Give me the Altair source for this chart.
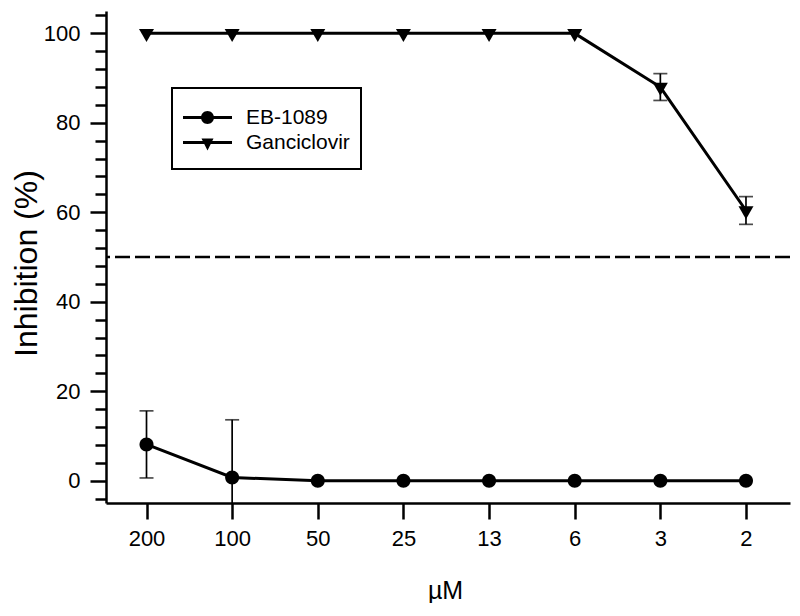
import json
import altair as alt
import pandas as pd

# ---- data ----
conc_labels = ["200", "100", "50", "25", "13", "6", "3", "2"]
series_names = ["EB-1089", "Ganciclovir"]
eb_mean = [8.1, 0.7, 0, 0, 0, 0, 0, 0]
eb_err = [7.5, 12.9, 0, 0, 0, 0, 0, 0]
ganc_mean = [100, 100, 100, 100, 100, 100, 88.0, 60.4]
ganc_err = [0, 0, 0, 0, 0, 0, 3.0, 3.1]
threshold = [50]
major_ticks = [0, 20, 40, 60, 80, 100]
minor_ticks = [v for v in range(-4, 105, 4) if v % 20 != 0]

rows = []
for name, means, errs in [(series_names[0], eb_mean, eb_err), (series_names[1], ganc_mean, ganc_err)]:
    for i, (m, e) in enumerate(zip(means, errs)):
        rows.append({"idx": i, "series": name, "mean": m, "low": m - e, "high": m + e, "err": e})
df = pd.DataFrame(rows)
df_err = df[df["err"] > 0]

FONT = "Liberation Sans"

xscale = alt.Scale(domain=[-0.473, 7.514], nice=False, zero=False)
yscale = alt.Scale(domain=[-5, 105], nice=False, zero=False)

xaxis = alt.Axis(
    values=list(range(len(conc_labels))),
    labelExpr=f"{json.dumps(conc_labels)}[datum.value]",
    title="µM", grid=False, tickSize=16, labelPadding=9,
    titleX=339, titleY=95, titleBaseline="alphabetic", titleAlign="center",
    titleFontSize=25,
)
yaxis_major = alt.Axis(
    orient="left", values=major_ticks,
    title="Inhibition (%)", grid=False, tickSize=16, labelPadding=10,
    titleX=-70, titleY=252, titleAngle=270, titleBaseline="alphabetic", titleAlign="center",
    titleFontSize=32,
)
yaxis_minor = alt.Axis(
    orient="left", values=minor_ticks, labels=False, domain=False,
    title=None, grid=False, tickSize=11,
)

X = lambda f: alt.X(f, type="quantitative", scale=xscale, axis=xaxis)
Y = lambda f, ax=None: alt.Y(f, type="quantitative", scale=yscale, axis=ax)

base = alt.Chart(df)

dash = alt.Chart(pd.DataFrame({"t": threshold})).mark_rule(
    color="black", strokeWidth=2.5, strokeDash=[15, 5]
).encode(y=Y("t", yaxis_minor))

lines = base.mark_line(color="black", strokeWidth=3).encode(
    x=X("idx"), y=Y("mean", yaxis_major), detail="series:N"
)

err_rules = alt.Chart(df_err).mark_rule(color="black", strokeWidth=1.7, clip=True).encode(
    x=X("idx"), y=Y("low"), y2="high"
)
cap_hi = alt.Chart(df_err).mark_tick(color="black", thickness=1.7, size=14, orient="horizontal", clip=True).encode(
    x=X("idx"), y=Y("high")
)
cap_lo = alt.Chart(df_err).mark_tick(color="black", thickness=1.7, size=14, orient="horizontal", clip=True).encode(
    x=X("idx"), y=Y("low")
)

point_paths = [
    "M-1,0A1,1 0 1,1 1,0A1,1 0 1,1 -1,0Z",
    "M-1.07,-0.62L1.07,-0.62L0,1.24Z",
]
points = base.mark_point(filled=True, color="black", opacity=1, size=196, strokeWidth=0).encode(
    x=X("idx"), y=Y("mean"),
    shape=alt.Shape("series:N", scale=alt.Scale(domain=series_names, range=point_paths), legend=None),
)

legend_paths = [
    "M-4.9,-0.3L4.9,-0.3L4.9,0.3L-4.9,0.3Z"
    "M-1.3,0A1.3,1.3 0 1,1 1.3,0A1.3,1.3 0 1,1 -1.3,0Z"
    "M0,-2.4L0,-2.4M0,2.4L0,2.4",
    "M-4.9,-0.3L4.9,-0.3L4.9,0.3L-4.9,0.3Z"
    "M-1.2,-0.8L1.2,-0.8L0,1.6Z"
    "M0,-2.4L0,-2.4M0,3.0L0,3.0",
]
legend_layer = base.transform_filter("false").mark_point(filled=True, color="black", opacity=1, size=100).encode(
    x=X("idx"), y=Y("mean"),
    shape=alt.Shape(
        "series:N",
        scale=alt.Scale(domain=series_names, range=legend_paths),
        legend=alt.Legend(
            title=" ", titleFontSize=6, titlePadding=2,
            orient="none", legendX=66, legendY=77, padding=11,
            strokeColor="black", symbolSize=100, symbolFillColor="black",
            symbolStrokeWidth=0, symbolOffset=14, labelOffset=28, rowPadding=0,
            labelFont=FONT, labelFontSize=21, labelColor="black",
        ),
    ),
)

chart = alt.layer(dash, lines, err_rules, cap_hi, cap_lo, points, legend_layer).resolve_scale(
    shape="independent"
).resolve_axis(y="independent").properties(
    width=684, height=492,
    autosize="none",
    padding={"left": 98, "top": 3, "right": 2, "bottom": 100},
).configure_view(stroke=None).configure_axis(
    domainColor="black", domainWidth=2.5, tickColor="black", tickWidth=2.5,
    labelFont=FONT, labelFontSize=22, labelColor="black",
    titleFont=FONT, titleColor="black", titleFontWeight="normal",
).configure_legend(strokeWidth=2)

chart.save("out.html", embed_options={"renderer": "svg", "actions": False})
